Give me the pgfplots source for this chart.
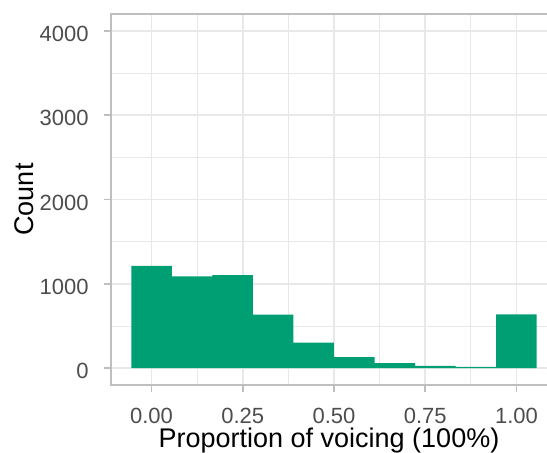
\documentclass[border=0pt]{standalone}
\usepackage{pgfplots}
\pgfplotsset{compat=1.18}
\usepackage{fontspec}
\setmainfont{Liberation Sans}

\definecolor{barfill}{RGB}{0,158,115}
\definecolor{gridgray}{RGB}{232,232,232}
\definecolor{bordergray}{RGB}{190,190,190}
\definecolor{ticktext}{RGB}{77,77,77}

% histogram of voicing proportions, bins of width 1/9 centred on 0, 1/9, ..., 1
\pgfplotstableread{
edge count
-0.05556 1213
0.05556 1087
0.16667 1103
0.27778 634
0.38889 303
0.50000 130
0.61111 59
0.72222 27
0.83333 15
0.94444 638
1.05556 638
}\voicing

\begin{document}
\begin{tikzpicture}
\begin{axis}[
  at={(0pt,0pt)}, anchor=south west,
  scale only axis,
  width=446pt, height=371pt,
  xmin=-0.1111, xmax=1.1111,
  ymin=-200, ymax=4200,
  xtick={0,0.25,0.5,0.75,1},
  xticklabels={0.00,0.25,0.50,0.75,1.00},
  ytick={0,1000,2000,3000,4000},
  yticklabels={0,1000,2000,3000,4000},
  minor xtick={0.125,0.375,0.625,0.875},
  minor ytick={500,1500,2500,3500},
  grid=both,
  major grid style={draw=gridgray, line width=1.5pt},
  minor grid style={draw=gridgray, line width=0.8pt},
  axis line style={draw=bordergray, line width=1.5pt},
  tick pos=left,
  tick align=outside,
  major tick length=7pt,
  minor tick length=0pt,
  every tick/.style={draw=bordergray, line width=1.5pt},
  /pgf/number format/assume math mode=true,
  ticklabel style={font=\fontsize{22}{26}\selectfont, text=ticktext},
  xticklabel style={anchor=base, inner sep=0pt, yshift=-31pt},
  yticklabel style={anchor=east, inner sep=0pt, xshift=-15.3pt, yshift=-3pt},
  clip=false,
]
\addplot[ybar interval, fill=barfill, draw=none] table[x=edge, y=count] {\voicing};
\end{axis}
\node[anchor=base, font=\fontsize{27}{32}\selectfont] at (218pt,-63pt) {Proportion of voicing (100\%)};
\node[anchor=base, rotate=90, font=\fontsize{27}{32}\selectfont] at (-77.7pt,185.5pt) {Count};
\pgfresetboundingbox
\useasboundingbox (-111pt,-68pt) rectangle (436pt,385pt);
\end{tikzpicture}
\end{document}
